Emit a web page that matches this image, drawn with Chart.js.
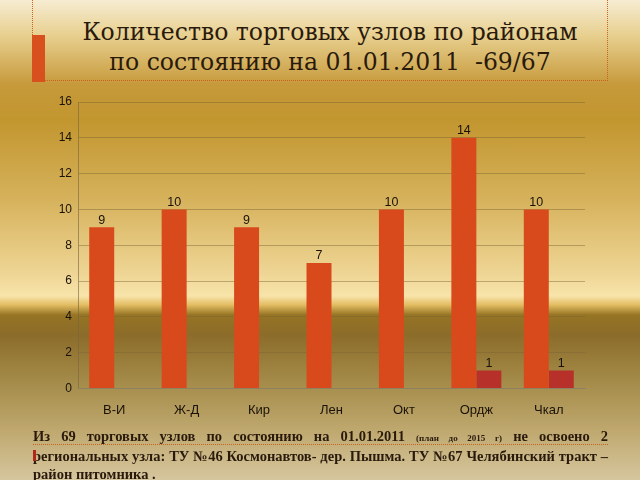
<!DOCTYPE html>
<html lang="ru">
<head>
<meta charset="UTF-8">
<title>Количество торговых узлов по районам</title>
<script src="https://cdn.jsdelivr.net/npm/chart.js"></script>
<style>
  html, body {
    margin: 0;
    padding: 0;
  }
  body {
    width: 640px;
    height: 480px;
    position: relative;
    overflow: hidden;
    background: linear-gradient(to bottom,
      #f6ecd2 0px, #e8d090 35px, #c6993a 85px, #c2962f 120px,
      #d6b25c 200px, #efd696 275px, #f8e4aa 296px, #e2bc62 305px,
      #957424 315px, #8c6c2a 335px, #a38a48 380px, #bfa86e 430px, #d6c69e 480px);
  }
  .title-box {
    position: absolute;
    left: 32px;
    top: -2px;
    width: 576px;
    height: 83px;
    border: 1px dotted #c8641e;
    box-sizing: border-box;
  }
  .title-mark {
    position: absolute;
    left: 32px;
    top: 35px;
    width: 13px;
    height: 47px;
    background: #d8501e;
  }
  .title {
    position: absolute;
    left: 45px;
    top: 17px;
    width: 570px;
    text-align: center;
    font-family: "DejaVu Serif", serif;
    font-size: 23.5px;
    line-height: 30px;
    color: #2a1a0c;
  }
  #chartBox {
    position: absolute;
    left: 0;
    top: 0;
    width: 640px;
    height: 480px;
  }
  .note {
    position: absolute;
    left: 33px;
    top: 427px;
    width: 575px;
    font-family: "Liberation Serif", serif;
    font-weight: bold;
    font-size: 14.5px;
    line-height: 18px;
    color: #2a1a0c;
  }
  .note div {
    white-space: nowrap;
  }
  .note .full {
    text-align: justify;
    text-align-last: justify;
  }
  .note small {
    font-size: 9px;
  }
  .note-line {
    position: absolute;
    left: 33px;
    top: 444px;
    width: 575px;
    border-top: 1px dotted #c8641e;
  }
  .note-mark {
    position: absolute;
    left: 33px;
    top: 450px;
    width: 3px;
    height: 11px;
    background: #b02818;
  }
</style>
</head>
<body>
<div class="title-box"></div>
<div class="title-mark"></div>
<div class="title">Количество торговых узлов по районам<br>по состоянию на 01.01.2011&nbsp; -69/67</div>
<div id="chartBox"><canvas id="nodesChart"></canvas></div>
<div class="note-line"></div>
<div class="note">
  <div class="full">Из 69 торговых узлов по состоянию на 01.01.2011 <small>(план до 2015 г)</small> не освоено 2</div>
  <div class="full">региональных узла: ТУ №46 Космонавтов- дер. Пышма. ТУ №67 Челябинский тракт –</div>
  <div>район питомника .</div>
</div>
<div class="note-mark"></div>

<script>
// Districts and counts
const districts = ['В-И', 'Ж-Д', 'Кир', 'Лен', 'Окт', 'Ордж', 'Чкал'];
const builtNodes = [9, 10, 9, 7, 10, 14, 10];
const notBuiltNodes = [0, 0, 0, 0, 0, 1, 1];
const yTicks = [0, 2, 4, 6, 8, 10, 12, 14, 16];

// Little plugin to write the value above each bar (zeros are skipped)
const barValues = {
  id: 'barValues',
  afterDatasetsDraw(chart) {
    const ctx = chart.ctx;
    ctx.save();
    ctx.font = '12.5px "Liberation Sans", Arial, sans-serif';
    ctx.fillStyle = '#1a1208';
    ctx.textAlign = 'center';
    ctx.textBaseline = 'bottom';
    chart.data.datasets.forEach((ds, i) => {
      chart.getDatasetMeta(i).data.forEach((bar, j) => {
        if (ds.data[j]) ctx.fillText(ds.data[j], bar.x, bar.y - 1);
      });
    });
    ctx.restore();
  }
};

const ctx = document.getElementById('nodesChart').getContext('2d');
const chart = new Chart(ctx, {
  type: 'bar',
  data: {
    labels: districts,
    datasets: [{
      data: builtNodes,
      backgroundColor: '#d84a1c',
      borderWidth: 0
    }, {
      data: notBuiltNodes,
      backgroundColor: '#b8302a',
      borderWidth: 0
    }]
  },
  options: {
    responsive: true,
    maintainAspectRatio: false,
    animation: false,
    categoryPercentage: 0.69,
    barPercentage: 1,
    layout: {
      padding: { left: 48, right: 55, top: 102, bottom: 56 }
    },
    scales: {
      y: {
        min: 0,
        max: 16,
        afterFit(scale) { scale.width = 30; },
        afterBuildTicks(scale) { scale.ticks = yTicks.map(v => ({ value: v })); },
        ticks: {
          color: '#1a1208',
          padding: 6,
          font: { family: '"Liberation Sans", Arial, sans-serif', size: 12 }
        },
        grid: {
          color: 'rgba(120, 100, 50, 0.45)',
          drawTicks: false
        },
        border: { color: 'rgba(120, 100, 60, 0.6)' }
      },
      x: {
        ticks: {
          color: '#1a1208',
          padding: 6,
          font: { family: '"Liberation Sans", Arial, sans-serif', size: 13 }
        },
        grid: { display: false },
        border: { color: 'rgba(140, 130, 110, 0.8)' }
      }
    },
    plugins: {
      legend: { display: false },
      title: { display: false },
      tooltip: { enabled: false }
    }
  },
  plugins: [barValues]
});
</script>
</body>
</html>
